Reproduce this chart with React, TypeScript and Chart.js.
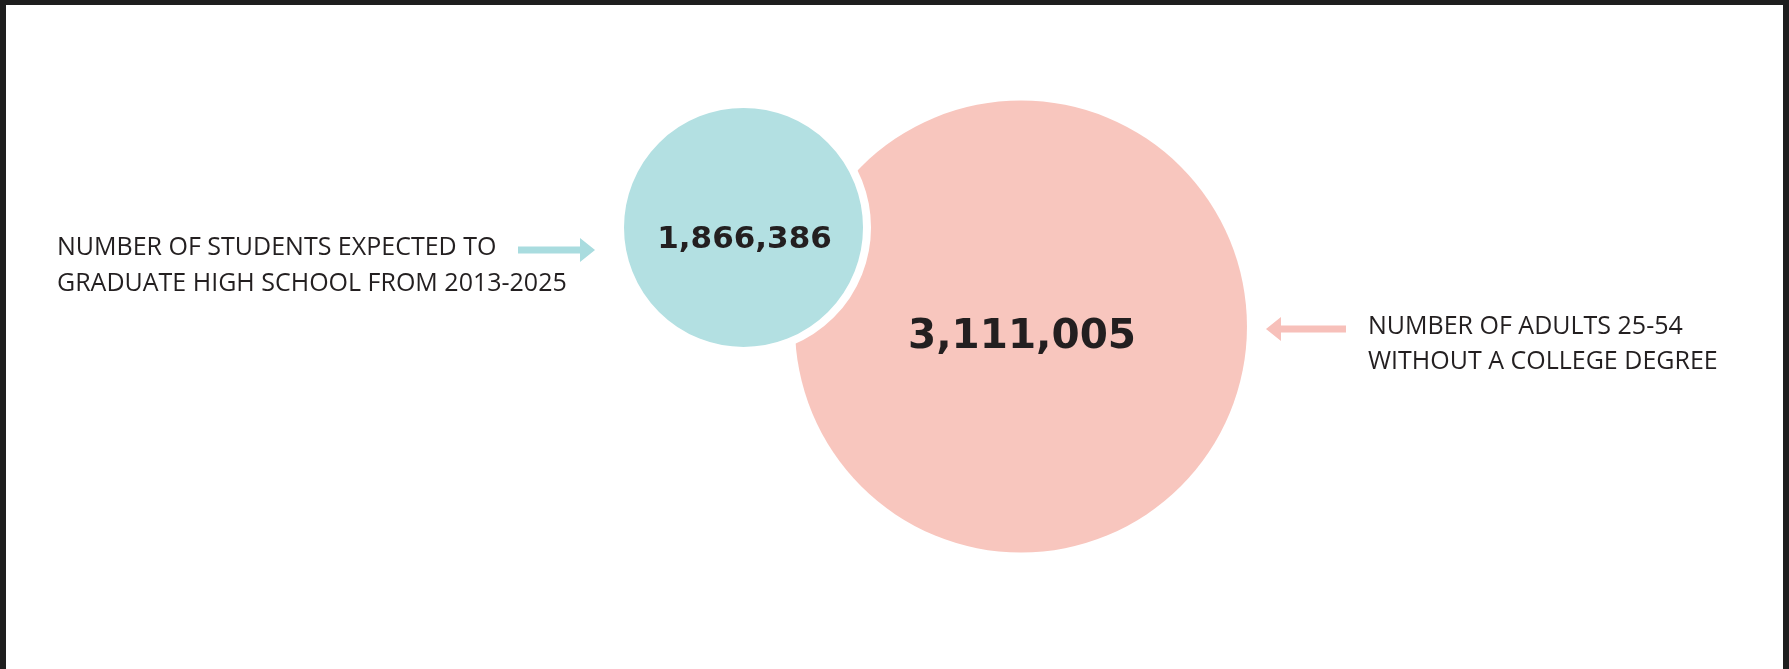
import React, { useEffect, useRef } from "react";
import { Chart, registerables } from "chart.js";

Chart.register(...registerables);

// ---- data ----
const categories = [
  "Students expected to graduate high school 2013-2025",
  "Adults 25-54 without a college degree",
];
const values = [1866386, 3111005];
const valueLabels = ["1,866,386", "3,111,005"];
// bubble positions on an arbitrary 0-100 layout grid and radii (px)
const bubbleX = [41.56, 57.07];
const bubbleY = [34.0, 48.8];
const bubbleR = [123.5, 226];
const leftCaption = ["NUMBER OF STUDENTS EXPECTED TO", "GRADUATE HIGH SCHOOL FROM 2013-2025"];
const rightCaption = ["NUMBER OF ADULTS 25-54", "WITHOUT A COLLEGE DEGREE"];
const bubbleColors = ["#b3e0e2", "#f8c6be"];
const arrowColors = ["#a9dcdf", "#f7c0ba"];

const TEXT_COLOR = "#231f20";
const TEAL_GAP = 8;

function drawArrow(ctx: CanvasRenderingContext2D, tailX: number, tipX: number, y: number, color: string) {
  const dir = tipX > tailX ? 1 : -1;
  const shaftHalf = 3.5;
  const headLen = 15;
  const headHalf = 12;
  const baseX = tipX - dir * headLen;
  ctx.save();
  ctx.fillStyle = color;
  ctx.beginPath();
  ctx.moveTo(tailX, y - shaftHalf);
  ctx.lineTo(baseX, y - shaftHalf);
  ctx.lineTo(baseX, y - headHalf);
  ctx.lineTo(tipX, y);
  ctx.lineTo(baseX, y + headHalf);
  ctx.lineTo(baseX, y + shaftHalf);
  ctx.lineTo(tailX, y + shaftHalf);
  ctx.closePath();
  ctx.fill();
  ctx.restore();
}

const labelPlugin = {
  id: "bubbleLabels",
  afterDatasetsDraw(chart: any) {
    const ctx: CanvasRenderingContext2D = chart.ctx;
    const teal = chart.getDatasetMeta(0).data[0];
    const pink = chart.getDatasetMeta(1).data[0];
    if (!teal || !pink) return;
    const tealR = teal.options.radius - teal.options.borderWidth / 2;
    const pinkR = pink.options.radius;

    ctx.save();
    ctx.fillStyle = TEXT_COLOR;
    // value labels
    ctx.textAlign = "center";
    ctx.textBaseline = "alphabetic";
    ctx.font = 'bold 31px "DejaVu Sans"';
    ctx.fillText(valueLabels[0], teal.x + 1, teal.y + 21);
    ctx.font = 'bold 40.5px "DejaVu Sans"';
    ctx.fillText(valueLabels[1], pink.x + 1, pink.y + 22);

    // captions
    ctx.font = '25px "Open Sans"';
    ctx.textAlign = "left";
    ctx.fillText(leftCaption[0], 57, 255);
    ctx.fillText(leftCaption[1], 57, 291);
    ctx.fillText(rightCaption[0], 1368, 334);
    ctx.fillText(rightCaption[1], 1368, 369);
    ctx.restore();

    // arrows
    const lTip = teal.x - tealR - 29;
    drawArrow(ctx, lTip - 77, lTip, teal.y + 22.5, arrowColors[0]);
    const rTip = pink.x + pinkR + 19;
    drawArrow(ctx, rTip + 80, rTip, pink.y + 2.5, arrowColors[1]);
  },
};

export default function App() {
  const canvasRef = useRef<HTMLCanvasElement | null>(null);

  useEffect(() => {
    if (!canvasRef.current) return;
    const chart = new Chart(canvasRef.current, {
      type: "bubble",
      data: {
        datasets: [
          {
            label: categories[0],
            data: [{ x: bubbleX[0], y: bubbleY[0], r: bubbleR[0], v: values[0] } as any],
            backgroundColor: bubbleColors[0],
            borderColor: "#ffffff",
            borderWidth: TEAL_GAP,
            hoverBorderWidth: TEAL_GAP,
            hoverRadius: 0,
          },
          {
            label: categories[1],
            data: [{ x: bubbleX[1], y: bubbleY[1], r: bubbleR[1], v: values[1] } as any],
            backgroundColor: bubbleColors[1],
            borderWidth: 0,
            hoverRadius: 0,
          },
        ],
      },
      options: {
        responsive: false,
        animation: false,
        events: [],
        layout: { padding: 0, autoPadding: false },
        plugins: { legend: { display: false }, tooltip: { enabled: false } },
        scales: {
          x: { type: "linear", min: 0, max: 100, display: false },
          y: { type: "linear", min: 0, max: 100, reverse: true, display: false },
        },
      },
      plugins: [labelPlugin],
    });
    return () => chart.destroy();
  }, []);

  return (
    <div style={{ position: "fixed", left: 0, top: 0, width: 1789, height: 669, background: "#1e1e1e" }}>
      <div style={{ position: "absolute", left: 6, top: 5, right: 6, bottom: 0, background: "#ffffff" }} />
      <canvas
        ref={canvasRef}
        width={1789}
        height={669}
        style={{ position: "absolute", left: 0, top: 0, width: 1789, height: 669 }}
      />
    </div>
  );
}
